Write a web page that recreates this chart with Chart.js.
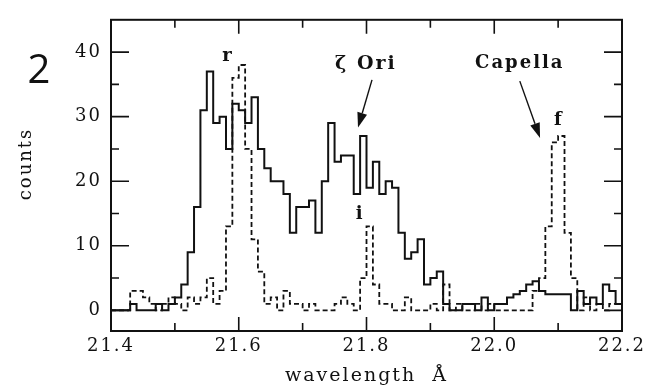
<!DOCTYPE html>
<html lang="en">
<head>
<meta charset="UTF-8" />
<title>O VII triplet: zeta Ori vs Capella</title>
<style>
  html, body { margin: 0; padding: 0; background: #fff; }
  #chart { display: block; }
</style>
<script src="https://cdn.jsdelivr.net/npm/chart.js"></script>
</head>
<body>
<canvas id="chart" width="663" height="388"></canvas>
<script>
// bin edges in Angstrom (80 bins of 0.01 A, last edge closes the histogram)
const wavelength = [
  21.40, 21.41, 21.42, 21.43, 21.44, 21.45, 21.46, 21.47, 21.48, 21.49,
  21.50, 21.51, 21.52, 21.53, 21.54, 21.55, 21.56, 21.57, 21.58, 21.59,
  21.60, 21.61, 21.62, 21.63, 21.64, 21.65, 21.66, 21.67, 21.68, 21.69,
  21.70, 21.71, 21.72, 21.73, 21.74, 21.75, 21.76, 21.77, 21.78, 21.79,
  21.80, 21.81, 21.82, 21.83, 21.84, 21.85, 21.86, 21.87, 21.88, 21.89,
  21.90, 21.91, 21.92, 21.93, 21.94, 21.95, 21.96, 21.97, 21.98, 21.99,
  22.00, 22.01, 22.02, 22.03, 22.04, 22.05, 22.06, 22.07, 22.08, 22.09,
  22.10, 22.11, 22.12, 22.13, 22.14, 22.15, 22.16, 22.17, 22.18, 22.19,
  22.20
];

// solid histogram (zeta Ori)
const zetaOri = [
  0, 0, 0, 1, 0, 0, 0, 1, 0, 1,
  2, 4, 9, 16, 31, 37, 29, 30, 25, 32,
  31, 29, 33, 25, 22, 20, 20, 18, 12, 16,
  16, 17, 12, 20, 29, 23, 24, 24, 18, 27,
  19, 23, 18, 20, 19, 12, 8, 9, 11, 4,
  5, 6, 1, 0, 0, 1, 1, 0, 2, 0,
  1, 1, 2, 2.5, 3, 4, 4.5, 3, 2.5, 2.5,
  2.5, 2.5, 0, 3, 1, 2, 1, 4, 3, 1
];

// dashed histogram (Capella)
const capella = [
  0, 0, 0, 3, 3, 2, 1, 0, 1, 2,
  1, 0, 2, 1, 2, 5, 1, 3, 13, 36,
  38, 25, 11, 6, 1, 2, 0, 3, 1, 1,
  0, 1, 0, 0, 0, 1, 2, 1, 0, 5,
  13, 4, 1, 1, 0, 0, 2, 0, 0, 0,
  1, 0, 4, 0, 1, 0, 0, 1, 0, 1,
  0, 0, 0, 0, 0, 0, 3, 5, 13, 26,
  27, 12, 5, 0, 2, 0, 1, 0, 1, 1
];

const xMajor = [21.4, 21.6, 21.8, 22.0, 22.2];
const xMinor = [21.5, 21.7, 21.9, 22.1];
const yMajor = [0, 10, 20, 30, 40];
const yMinor = [5, 15, 25, 35];

const ink = '#111';
const serif = 'DejaVu Serif';

// the last edge repeats the last bin so the step closes at the frame
function steps(counts) {
  return wavelength.map((w, i) => ({ x: w, y: counts[Math.min(i, counts.length - 1)] }));
}

// text notes and arrows, placed in data coordinates
const notes = [
  { text: 'r', x: 21.583, y: 39.3, size: 18 },
  { text: 'ζ Ori', x: 21.799, y: 38.1, size: 19 },
  { text: 'Capella', x: 22.040, y: 38.2, size: 18 },
  { text: 'i', x: 21.790, y: 14.8, size: 18 },
  { text: 'f', x: 22.101, y: 29.4, size: 18 }
];
const arrows = [
  { from: [21.8086, 35.7], to: [21.7867, 28.3] },
  { from: [22.040, 35.5], to: [22.0717, 26.7] }
];

const decor = {
  id: 'decor',
  beforeDraw(chart) {
    chart.ctx.letterSpacing = '2px';
  },
  afterDraw(chart) {
    const { ctx, chartArea: a, scales: { x, y } } = chart;
    ctx.save();
    ctx.strokeStyle = ink;
    ctx.fillStyle = ink;

    // frame
    ctx.lineWidth = 2;
    ctx.strokeRect(a.left, a.top, a.right - a.left, a.bottom - a.top);

    // inward ticks on all four sides
    ctx.lineWidth = 1.6;
    ctx.beginPath();
    xMajor.concat(xMinor).forEach(v => {
      if (v <= x.min || v >= x.max) return;
      const len = xMajor.includes(v) ? 14 : 8;
      const px = x.getPixelForValue(v);
      ctx.moveTo(px, a.bottom); ctx.lineTo(px, a.bottom - len);
      ctx.moveTo(px, a.top); ctx.lineTo(px, a.top + len);
    });
    yMajor.concat(yMinor).forEach(v => {
      if (v <= y.min || v >= y.max) return;
      const len = yMajor.includes(v) ? 18 : 8;
      const py = y.getPixelForValue(v);
      ctx.moveTo(a.left, py); ctx.lineTo(a.left + len, py);
      ctx.moveTo(a.right, py); ctx.lineTo(a.right - len, py);
    });
    ctx.stroke();

    // notes
    ctx.textAlign = 'center';
    ctx.textBaseline = 'middle';
    notes.forEach(n => {
      ctx.font = `bold ${n.size}px "${serif}"`;
      ctx.fillText(n.text, x.getPixelForValue(n.x), y.getPixelForValue(n.y));
    });

    // y axis title, a little above the middle as in the original
    ctx.save();
    ctx.translate(26, 164);
    ctx.rotate(-Math.PI / 2);
    ctx.font = `18px "${serif}"`;
    ctx.fillText('counts', 0, 0);
    ctx.restore();

    // arrows
    ctx.lineWidth = 1.4;
    arrows.forEach(ar => {
      const x0 = x.getPixelForValue(ar.from[0]), y0 = y.getPixelForValue(ar.from[1]);
      const x1 = x.getPixelForValue(ar.to[0]), y1 = y.getPixelForValue(ar.to[1]);
      const ang = Math.atan2(y1 - y0, x1 - x0);
      const hl = 15, hw = 5;
      const bx = x1 - hl * Math.cos(ang), by = y1 - hl * Math.sin(ang);
      ctx.beginPath();
      ctx.moveTo(x0, y0); ctx.lineTo(bx, by);
      ctx.stroke();
      ctx.beginPath();
      ctx.moveTo(x1, y1);
      ctx.lineTo(bx + hw * Math.sin(ang), by - hw * Math.cos(ang));
      ctx.lineTo(bx - hw * Math.sin(ang), by + hw * Math.cos(ang));
      ctx.closePath();
      ctx.fill();
    });

    // panel number
    ctx.letterSpacing = '0px';
    ctx.font = '40px "Open Sans"';
    ctx.fillText('2', 39, 72);
    ctx.restore();
  }
};

new Chart(document.getElementById('chart').getContext('2d'), {
  type: 'line',
  data: {
    datasets: [
      {
        label: 'ζ Ori',
        data: steps(zetaOri),
        stepped: 'before',
        borderColor: ink,
        borderWidth: 2,
        pointRadius: 0,
        fill: false
      },
      {
        label: 'Capella',
        data: steps(capella),
        stepped: 'before',
        borderColor: ink,
        borderWidth: 1.8,
        borderDash: [5, 3],
        pointRadius: 0,
        fill: false
      }
    ]
  },
  options: {
    responsive: false,
    animation: false,
    devicePixelRatio: 1,
    layout: { padding: { left: 0, right: 41, top: 9, bottom: 0 } },
    plugins: { legend: { display: false }, tooltip: { enabled: false } },
    scales: {
      x: {
        type: 'linear',
        min: 21.4,
        max: 22.2,
        grid: { display: false, drawTicks: false },
        border: { display: false },
        afterBuildTicks: s => { s.ticks = xMajor.map(v => ({ value: v })); },
        afterFit: s => { s.height = 57; },
        ticks: {
          autoSkip: false,
          maxRotation: 0,
          padding: 5,
          color: ink,
          font: { family: serif, size: 18 },
          callback: v => v.toFixed(1)
        },
        title: {
          display: true,
          text: 'wavelength  Å',
          color: ink,
          font: { family: serif, size: 19 },
          padding: { top: 0, bottom: 1 }
        }
      },
      y: {
        min: -3.2,
        max: 45,
        grid: { display: false, drawTicks: false },
        border: { display: false },
        afterBuildTicks: s => { s.ticks = yMajor.map(v => ({ value: v })); },
        afterFit: s => { s.width = 111; },
        ticks: {
          padding: 9,
          color: ink,
          font: { family: serif, size: 18 },
          callback: v => String(v)
        }
      }
    }
  },
  plugins: [decor]
});
</script>
</body>
</html>
